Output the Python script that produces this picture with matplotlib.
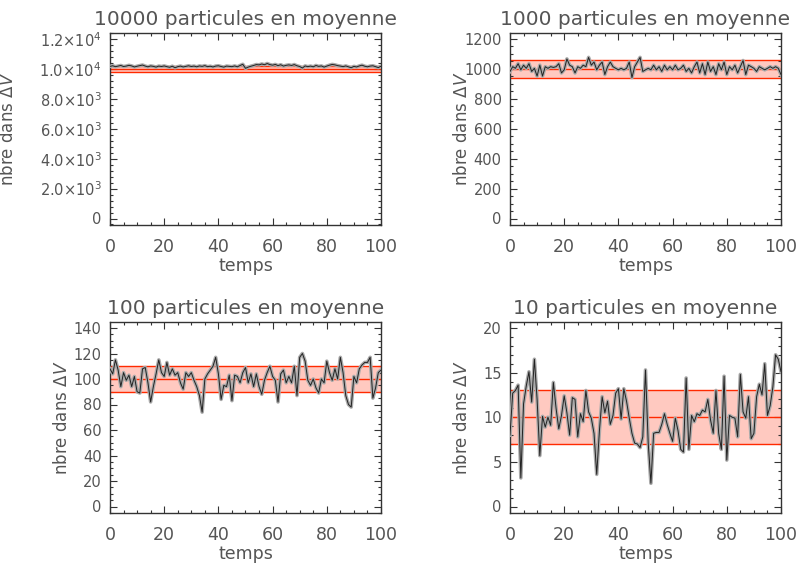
import matplotlib
matplotlib.use("Agg")
import matplotlib.pyplot as plt
from matplotlib import font_manager
from matplotlib.ticker import FixedLocator, FixedFormatter, MultipleLocator

t = list(range(101))

# 10000 particules
n10000 = [10170, 10210, 10150, 10190, 10230, 10160, 10190, 10240, 10200, 10130,
          10180, 10220, 10260, 10190, 10140, 10200, 10170, 10120, 10190, 10160,
          10200, 10150, 10110, 10180, 10080, 10150, 10190, 10130, 10170, 10210,
          10160, 10190, 10140, 10200, 10170, 10220, 10150, 10180, 10130, 10190,
          10210, 10160, 10120, 10190, 10170, 10150, 10200, 10140, 10230, 10310,
          10040, 10120, 10180, 10230, 10290, 10270, 10330, 10280, 10360, 10290,
          10250, 10300, 10220, 10280, 10190, 10240, 10270, 10230, 10290, 10210,
          10160, 10060, 10200, 10150, 10190, 10140, 10230, 10170, 10200, 10120,
          10190, 10250, 10300, 10270, 10220, 10190, 10150, 10200, 10140, 10080,
          10170, 10130, 10200, 10250, 10180, 10140, 10190, 10210, 10150, 10090,
          10180]

# 1000 particules
n1000 = [983, 1015, 1004, 1035, 994, 1025, 1004, 1035, 983, 1004,
         952, 1025, 952, 1015, 1004, 1015, 1010, 1015, 1035, 973,
         994, 1067, 1025, 1015, 973, 1015, 1004, 1025, 1015, 1077,
         1025, 1046, 994, 1025, 1046, 962, 1015, 1046, 1015, 1004,
         994, 1004, 994, 1004, 1046, 942, 1015, 1046, 1077, 983,
         994, 1004, 994, 1025, 994, 1015, 983, 1025, 994, 1015,
         994, 1025, 994, 1004, 1025, 983, 1004, 973, 1015, 1046,
         973, 1035, 962, 1046, 983, 1015, 962, 1035, 994, 1046,
         962, 1015, 994, 1025, 973, 1015, 1056, 962, 1025, 1015,
         1004, 983, 1015, 1004, 994, 1004, 1015, 1004, 1015, 1004,
         962]

# 100 particules
n100 = [108, 104, 115, 107, 94, 105, 99, 103, 94, 102,
        90, 89, 108, 109, 97, 82, 94, 104, 115, 105,
        102, 113, 103, 108, 103, 105, 97, 92, 105, 102,
        105, 99, 94, 87, 74, 100, 104, 107, 110, 117,
        104, 84, 95, 94, 103, 83, 103, 102, 97, 105,
        109, 97, 104, 94, 104, 94, 88, 99, 105, 110,
        102, 99, 82, 104, 107, 97, 102, 97, 110, 87,
        117, 120, 114, 99, 95, 100, 93, 89, 100, 97,
        114, 105, 99, 108, 100, 117, 105, 87, 80, 78,
        102, 97, 108, 111, 113, 113, 117, 85, 93, 105,
        107]

# 10 particules
n10 = [8.0, 12.7, 13.0, 13.6, 3.2, 11.5, 13.5, 15.1, 11.7, 16.5,
       12.0, 5.7, 10.1, 8.9, 10.0, 9.1, 13.9, 11.0, 8.7, 10.2,
       12.4, 10.5, 8.0, 12.2, 12.0, 7.8, 10.4, 9.5, 13.0, 10.6,
       9.9, 8.2, 3.6, 8.5, 12.3, 10.5, 11.8, 9.2, 10.2, 12.7,
       13.2, 9.8, 13.2, 11.8, 9.9, 8.2, 7.1, 7.0, 6.6, 7.8,
       15.3, 7.1, 2.6, 8.2, 8.3, 8.3, 9.2, 10.4, 9.2, 8.2,
       7.3, 9.9, 8.5, 6.4, 6.1, 14.4, 6.4, 10.2, 9.5, 10.4,
       10.2, 10.8, 10.6, 12.0, 9.7, 8.2, 13.0, 8.2, 6.4, 14.6,
       5.2, 10.2, 10.0, 9.9, 7.8, 14.8, 10.6, 9.9, 12.3, 7.6,
       8.2, 12.3, 13.7, 12.5, 16.0, 10.2, 11.3, 13.4, 17.0, 16.5,
       15.1]

titles = ["10000 particules en moyenne", "1000 particules en moyenne",
          "100 particules en moyenne", "10 particules en moyenne"]
series = [n10000, n1000, n100, n10]
means = [10000, 1000, 100, 10]
halfwidths = [200, 62, 10, 3]
ymax = [12000, 1200, 140, 20]
ymajor = [2000, 200, 20, 5]
yminor = [400, 50, 5, 1]

txt = "#555555"
plt.rcParams['font.family'] = ['DejaVu Sans']

# narrow face for the y tick labels if it is there
installed = {f.name for f in font_manager.fontManager.ttflist}
if 'Liberation Sans Narrow' in installed:
    yfam, ysize = 'Liberation Sans Narrow', 12.5
else:
    yfam, ysize = 'DejaVu Sans', 10.5

fig = plt.figure(figsize=(8.03, 5.63), dpi=100)
W, H = 803, 563
boxes = [(110, 33, 381, 225), (510, 33, 781, 225),
         (110, 322, 381, 513), (510, 322, 781, 513)]
ylab_x = [17, 471, 71, 471]

for k in range(4):
    x0, y0, x1, y1 = boxes[k]
    ax = fig.add_axes([x0 / W, 1 - y1 / H, (x1 - x0) / W, (y1 - y0) / H])
    m = means[k]
    h = halfwidths[k]
    ax.axhspan(m - h, m + h, color="#ffc9c0", lw=0, zorder=1)
    for yy in (m - h, m, m + h):
        ax.axhline(yy, color="#ff2a00", lw=1.0, zorder=2)
    ax.plot(t, series[k], color="#aaaaaa", lw=2.6, zorder=3, solid_joinstyle="round")
    ax.plot(t, series[k], color="#222222", lw=0.7, zorder=4)
    ax.set_xlim(0, 100)
    ppu = ((y1 - y0) - 12.5) / ymax[k]
    ax.set_ylim(-6.5 / ppu, ymax[k] + 6.0 / ppu)
    ax.xaxis.set_major_locator(MultipleLocator(20))
    ax.xaxis.set_minor_locator(MultipleLocator(5))
    ax.yaxis.set_major_locator(MultipleLocator(ymajor[k]))
    ax.yaxis.set_minor_locator(MultipleLocator(yminor[k]))
    if k == 0:
        vals = [0, 2000, 4000, 6000, 8000, 10000, 12000]
        labs = ["0", r"2.0$\times$10$^3$", r"4.0$\times$10$^3$", r"6.0$\times$10$^3$",
                r"8.0$\times$10$^3$", r"1.0$\times$10$^4$", r"1.2$\times$10$^4$"]
        ax.yaxis.set_major_locator(FixedLocator(vals))
        ax.yaxis.set_major_formatter(FixedFormatter(labs))
    ax.tick_params(which="both", direction="in", top=True, right=True,
                   colors="#333333", labelcolor=txt, labelsize=12.5)
    ax.tick_params(which="major", length=5, width=0.8, pad=6)
    ax.tick_params(axis="x", which="major", pad=9)
    ax.tick_params(axis="y", labelsize=ysize, labelfontfamily=yfam)
    ax.tick_params(which="minor", length=2.5, width=0.8)
    for s in ax.spines.values():
        s.set_color("#333333")
        s.set_linewidth(1.0)
    ax.set_title(titles[k], color=txt, fontsize=14.5, pad=6)
    ax.set_xlabel("temps", color=txt, fontsize=12.5, labelpad=1)
    ax.set_ylabel(r"nbre dans $\Delta V$", color=txt, fontsize=12)
    ax.yaxis.set_label_coords((ylab_x[k] - x0) / (x1 - x0), 0.5)

fig.savefig("out.png", dpi=100)
